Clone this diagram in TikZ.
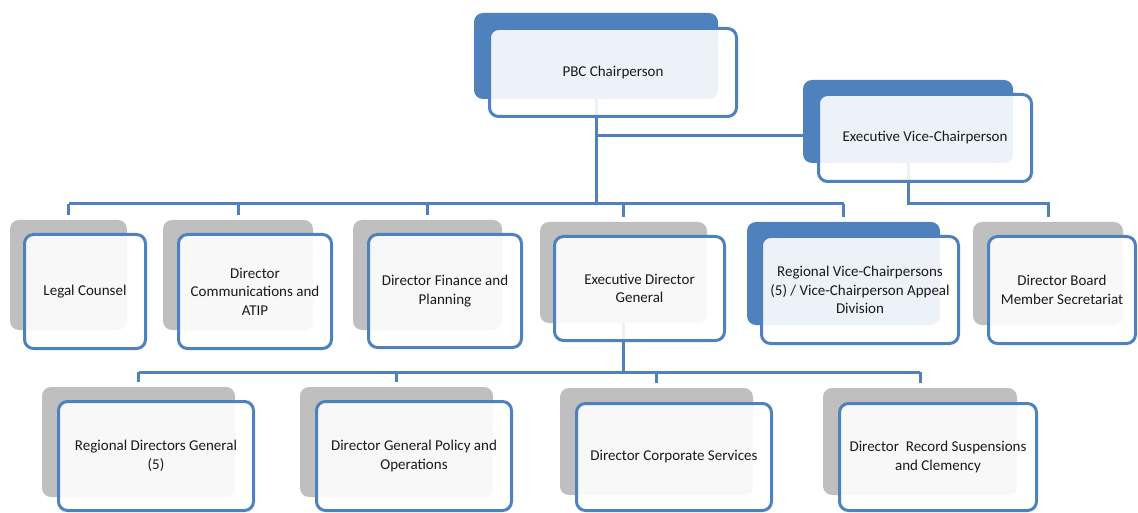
\documentclass[tikz,border=0pt]{standalone}
\usepackage{fontspec}
\setmainfont{Carlito}
\usepackage{tikz}
\usetikzlibrary{positioning}
\usetikzlibrary{backgrounds}
\definecolor{orgblue}{HTML}{4F81BD}
\definecolor{orggrey}{HTML}{BFBFBF}
\definecolor{orgtext}{HTML}{1A1A1A}
\tikzset{conn/.style = {draw = orgblue, line width = 3pt}}
\tikzset{backblue/.style = {fill = orgblue, rounded corners = 9pt, inner sep = 0}}
\tikzset{backgrey/.style = {fill = orggrey, rounded corners = 9pt, inner sep = 0}}
\tikzset{front/.style = {draw = orgblue, line width = 3pt, fill = white, fill opacity = 0.9,
                         text opacity = 1, text = orgtext, rounded corners = 9pt, inner sep = 0,
                         align = center, font = \fontsize{15}{18.5}\selectfont}}

\begin{document}
\begin{tikzpicture}[x=1pt, y=-1pt]
      \useasboundingbox (0, 0) rectangle (1138, 513);

      \node (pbc-b) at (596, 56) [backblue, minimum width = 244, minimum height = 86] {};
      \node (pbc) at (613, 72.5) [front, minimum width = 247, minimum height = 88] {PBC Chairperson};
      \node (evc-b) at (908, 121.5) [backblue, minimum width = 210, minimum height = 83] {};
      \node (evc) at (925, 138) [front, minimum width = 213, minimum height = 87] {Executive Vice-Chairperson};

      \node (lc-b) at (68.5, 275) [backgrey, minimum width = 117, minimum height = 110] {};
      \node (lc) at (85, 291.5) [front, minimum width = 121, minimum height = 114] {Legal Counsel};
      \node (comm-b) at (238, 275) [backgrey, minimum width = 150, minimum height = 110] {};
      \node (comm) at (255, 291.5) [front, minimum width = 153, minimum height = 114] {Director\\Communications and\\ATIP};
      \node (fin-b) at (427.5, 275) [backgrey, minimum width = 149, minimum height = 110] {};
      \node (fin) at (445, 291) [front, minimum width = 153, minimum height = 113] {Director Finance and\\Planning};
      \node (edg-b) at (623.5, 272.5) [backgrey, minimum width = 167, minimum height = 101] {};
      \node (edg) at (639.5, 288.5) [front, minimum width = 170, minimum height = 104] {Executive Director\\General};
      \node (rvc-b) at (843.5, 273.5) [backblue, minimum width = 193, minimum height = 103] {};
      \node (rvc) at (860, 290) [front, minimum width = 197, minimum height = 107] {Regional Vice-Chairpersons\\(5) / Vice-Chairperson Appeal\\Division};
      \node (dbm-b) at (1048, 273.5) [backgrey, minimum width = 150, minimum height = 103] {};
      \node (dbm) at (1062, 290) [front, minimum width = 147, minimum height = 107] {Director Board\\Member Secretariat};

      \node (rdg-b) at (138.5, 442) [backgrey, minimum width = 193, minimum height = 110] {};
      \node (rdg) at (156, 456) [front, minimum width = 195, minimum height = 109] {Regional Directors General\\(5)};
      \node (gpo-b) at (396.5, 442) [backgrey, minimum width = 193, minimum height = 110] {};
      \node (gpo) at (414, 456) [front, minimum width = 195, minimum height = 109] {Director General Policy and\\Operations};
      \node (dcs-b) at (656.5, 441.5) [backgrey, minimum width = 193, minimum height = 107] {};
      \node (dcs) at (674, 457) [front, minimum width = 195, minimum height = 107] {Director Corporate Services};
      \node (drs-b) at (920, 441.5) [backgrey, minimum width = 194, minimum height = 107] {};
      \node (drs) at (938, 457) [front, minimum width = 197, minimum height = 107] {Director\ \ Record Suspensions\\and Clemency};

      \coordinate (top-bus) at (0, 204);
      \coordinate (evc-link) at (0, 136);
      \coordinate (low-bus) at (0, 372);

      \begin{scope}[on background layer]
        \draw [conn] (pbc-b.south) -- (pbc-b.south |- top-bus);
        \draw [conn] (pbc-b.south |- evc-link) -- (evc-b.west |- evc-link);
        \draw [conn] (lc-b.north |- top-bus) -- (rvc-b.north |- top-bus);
        \foreach \n in {lc, comm, fin, edg, rvc}
          \draw [conn] (\n-b.north |- top-bus) -- ([yshift=5pt]\n-b.north);
        \draw [conn] (evc-b.south) -- (evc-b.south |- top-bus) -- (dbm-b.north |- top-bus)
                     -- ([yshift=5pt]dbm-b.north);
        \draw [conn] (edg-b.south) -- (edg-b.south |- low-bus);
        \draw [conn] (rdg-b.north |- low-bus) -- (drs-b.north |- low-bus);
        \foreach \n in {rdg, gpo, dcs, drs}
          \draw [conn] (\n-b.north |- low-bus) -- ([yshift=5pt]\n-b.north);
      \end{scope}
    \end{tikzpicture}
\end{document}
